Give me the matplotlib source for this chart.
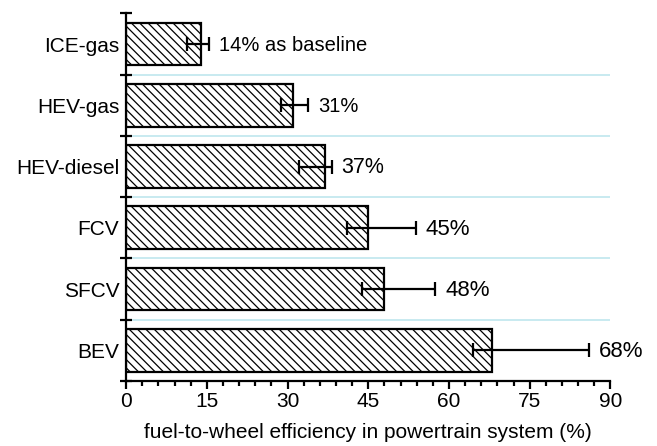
import numpy as np
import matplotlib
matplotlib.use("Agg")
import matplotlib.pyplot as plt
from matplotlib.ticker import MultipleLocator

# data
categories = ["ICE-gas", "HEV-gas", "HEV-diesel", "FCV", "SFCV", "BEV"]
efficiency = [14, 31, 37, 45, 48, 68]
err_low = [11.3, 28.8, 32.2, 41.1, 43.8, 64.4]
err_high = [15.4, 33.8, 38.2, 53.9, 57.5, 86.0]
labels = ["14% as baseline", "31%", "37%", "45%", "48%", "68%"]

# annotation font sizes differ a little in the original
label_sizes = [14.5, 14.5, 15.5, 16, 16, 16]

plt.rcParams['font.family'] = ['Liberation Sans', 'DejaVu Sans']
plt.rcParams['hatch.linewidth'] = 0.9

fig = plt.figure(figsize=(6.57, 4.46), dpi=100)
ax = fig.add_axes([0.192, 0.146, 0.737, 0.824])

y = np.arange(len(categories))
vals = np.array(efficiency)
xerr = [vals - np.array(err_low), np.array(err_high) - vals]

ax.barh(y, vals, height=0.7, color="white", edgecolor="black",
        linewidth=1.6, hatch="\\\\\\\\", zorder=2)
ax.errorbar(vals, y, xerr=xerr, fmt="none", ecolor="black",
            elinewidth=1.6, capsize=5, capthick=1.6, zorder=3)

for yi, hi, lab, fs in zip(y, err_high, labels, label_sizes):
    ax.annotate(lab, (hi, yi), xytext=(7, -1), textcoords="offset points",
                va="center", ha="left", fontsize=fs)

# light blue separators between categories
for b in np.arange(0.5, len(categories) - 0.5, 1.0):
    ax.plot([0, 90], [b, b], color="#bfe6ee", linewidth=1.2, zorder=1)

ax.set_xlim(0, 90)
ax.set_ylim(len(categories) - 0.5, -0.5)

ax.set_yticks(y)
ax.set_yticklabels(categories, fontsize=15)
ax.tick_params(axis="y", which="major", length=0, pad=5)
ax.set_yticks(np.arange(-0.5, len(categories), 1.0), minor=True)
ax.tick_params(axis="y", which="minor", direction="inout", length=9, width=1.6)

ax.xaxis.set_major_locator(MultipleLocator(15))
ax.xaxis.set_minor_locator(MultipleLocator(3))
ax.tick_params(axis="x", which="major", direction="out", length=6, width=1.6,
               labelsize=15, pad=2)
ax.tick_params(axis="x", which="minor", direction="out", length=3.5, width=1.6)

ax.set_xlabel("fuel-to-wheel efficiency in powertrain system (%)", fontsize=15,
              labelpad=9)

for s in ["top", "right"]:
    ax.spines[s].set_visible(False)
for s in ["left", "bottom"]:
    ax.spines[s].set_linewidth(1.6)

fig.savefig("out.png", dpi=100)
